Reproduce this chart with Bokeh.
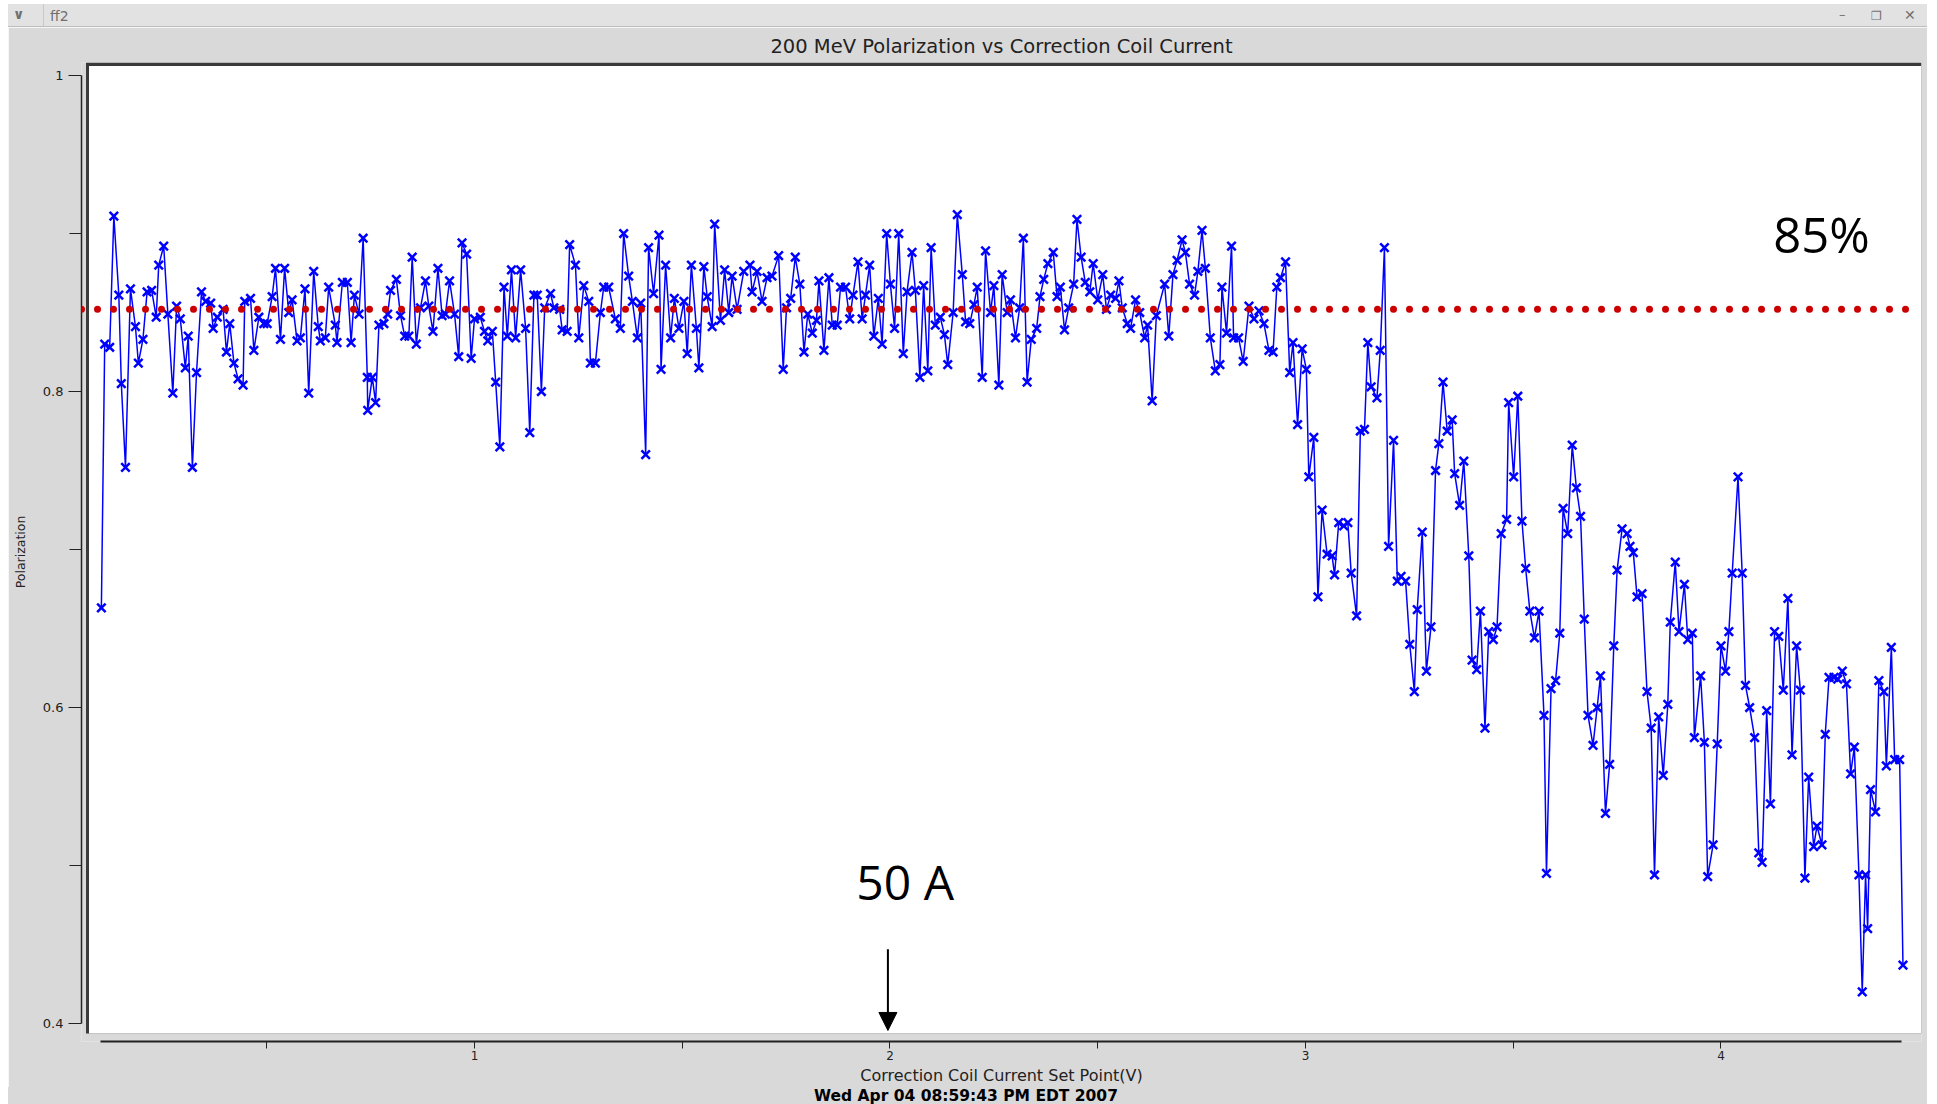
from bokeh.plotting import figure
from bokeh.models import Span, Label, Arrow, NormalHead, BoxAnnotation, FixedTicker, Div
from bokeh.layouts import column
from bokeh.embed import file_html
from bokeh.resources import INLINE

# ---------------- data ----------------
TITLE = "200 MeV Polarization vs Correction Coil Current"
X_LABEL = "Correction Coil Current Set Point(V)"
Y_LABEL = "Polarization"
DATE_TEXT = "Wed Apr 04 08:59:43 PM EDT 2007"
WINDOW_NAME = "ff2"
THRESHOLD = 0.852
THRESHOLD_TEXT = "85%"
MARK_TEXT = "50 A"
MARK_X = 1.995

x_a = [0.102,0.110,0.122,0.132,0.144,0.150,0.160,0.172,0.184,0.191,0.202,0.212,0.223,0.234,0.240,0.252,0.262,0.274,0.283,0.292,
       0.304,0.311,0.321,0.331,0.343,0.353,0.365,0.371,0.381,0.395,0.403,0.411,0.421,0.431,0.443,0.447,0.461,0.469,0.481,0.493,
       0.501,0.513,0.521,0.533,0.543,0.553,0.561,0.573,0.581,0.592,0.601,0.613,0.624,0.629,0.641,0.649,0.665,0.669]
y_a = [0.663,0.830,0.828,0.911,0.861,0.805,0.752,0.865,0.841,0.818,0.833,0.863,0.864,0.847,0.880,0.892,0.849,0.799,0.854,0.846,
       0.815,0.835,0.752,0.812,0.863,0.857,0.856,0.840,0.847,0.852,0.825,0.843,0.818,0.808,0.804,0.857,0.859,0.826,0.847,0.843,
       0.843,0.860,0.878,0.833,0.878,0.850,0.858,0.832,0.834,0.865,0.799,0.876,0.841,0.832,0.834,0.866,0.842,0.831]

x_b = [0.682,0.694,0.703,0.711,0.722,0.732,0.742,0.743,0.754,0.762,0.770,0.782,0.791,0.798,0.812,0.822,0.832,0.842,0.850,0.860,
       0.870,0.882,0.890,0.900,0.912,0.922,0.930,0.940,0.952,0.962,0.970,0.981,0.992,1.000,1.014,1.024,1.032,1.043,1.051,1.061,
       1.071,1.079,1.089,1.099,1.111,1.123,1.133,1.143,1.151,1.161,1.169,1.183,1.191,1.205,1.211,1.223,1.229]
y_b = [0.869,0.869,0.831,0.861,0.849,0.897,0.809,0.788,0.809,0.793,0.842,0.843,0.849,0.864,0.871,0.848,0.835,0.835,0.885,0.830,
       0.853,0.870,0.854,0.838,0.878,0.848,0.849,0.870,0.849,0.822,0.894,0.887,0.821,0.846,0.847,0.838,0.832,0.838,0.806,0.765,
       0.866,0.835,0.877,0.834,0.877,0.840,0.774,0.861,0.861,0.800,0.853,0.862,0.853,0.852,0.839,0.838,0.893]

x_c = [1.243,1.251,1.263,1.275,1.279,1.291,1.303,1.311,1.323,1.339,1.351,1.359,1.371,1.380,1.392,1.400,1.412,1.419,1.431,1.444,
       1.449,1.460,1.472,1.481,1.492,1.504,1.512,1.522,1.534,1.540,1.552,1.560,1.572,1.578,1.592,1.602,1.612,1.620,1.632,1.648,
       1.663,1.668,1.680,1.692,1.704,1.716,1.732,1.743,1.751,1.761,1.772,1.783,1.793,1.802,1.813]
y_c = [0.880,0.834,0.867,0.857,0.818,0.818,0.850,0.866,0.866,0.846,0.840,0.900,0.873,0.857,0.834,0.856,0.760,0.891,0.862,0.899,
       0.814,0.880,0.834,0.859,0.840,0.857,0.824,0.880,0.840,0.815,0.879,0.860,0.841,0.906,0.845,0.877,0.850,0.873,0.852,0.876,
       0.880,0.863,0.876,0.857,0.872,0.873,0.886,0.814,0.853,0.859,0.885,0.868,0.825,0.849,0.837]

x_d = [1.823,1.829,1.841,1.853,1.861,1.873,1.881,1.893,1.903,1.911,1.923,1.933,1.941,1.951,1.961,1.972,1.981,1.992,2.001,2.011,
       2.021,2.032,2.041,2.053,2.061,2.072,2.081,2.091,2.099,2.109,2.121,2.131,2.139,2.152,2.162,2.174,2.182,2.192,2.202,2.210,
       2.222,2.230,2.242,2.250,2.262,2.270,2.282,2.290,2.302,2.312,2.321,2.330,2.340,2.353,2.361,2.370,2.380,2.393]
y_d = [0.845,0.870,0.826,0.872,0.842,0.842,0.866,0.866,0.846,0.861,0.882,0.846,0.861,0.880,0.835,0.859,0.830,0.900,0.868,0.840,
       0.900,0.824,0.863,0.888,0.864,0.809,0.867,0.813,0.891,0.842,0.847,0.836,0.817,0.850,0.912,0.874,0.844,0.843,0.855,0.866,
       0.809,0.889,0.850,0.867,0.804,0.874,0.850,0.858,0.834,0.853,0.897,0.806,0.833,0.840,0.860,0.871,0.881,0.888]

x_e = [2.402,2.410,2.420,2.430,2.442,2.450,2.460,2.470,2.481,2.489,2.500,2.512,2.521,2.531,2.543,2.551,2.559,2.571,2.579,2.591,
       2.601,2.613,2.620,2.631,2.641,2.661,2.671,2.681,2.691,2.703,2.711,2.721,2.733,2.741,2.751,2.759,2.771,2.783,2.794,2.799,
       2.810,2.822,2.827,2.839,2.850,2.864,2.876,2.888,2.900,2.912,2.922,2.931,2.940,2.952]
y_e = [0.860,0.866,0.839,0.853,0.868,0.909,0.885,0.869,0.863,0.881,0.858,0.874,0.852,0.861,0.859,0.870,0.853,0.843,0.840,0.858,
       0.850,0.834,0.842,0.794,0.848,0.868,0.835,0.874,0.883,0.896,0.888,0.868,0.861,0.876,0.902,0.878,0.834,0.813,0.817,0.866,
       0.837,0.892,0.834,0.834,0.819,0.854,0.846,0.851,0.843,0.826,0.825,0.866,0.872,0.882]

x_f = [2.962,2.970,2.981,2.992,3.002,3.008,3.020,3.030,3.040,3.052,3.064,3.070,3.080,3.092,3.102,3.110,3.123,3.132,3.142,3.150,
       3.158,3.172,3.180,3.190,3.200,3.212,3.221,3.230,3.241,3.251,3.262,3.269,3.281,3.291,3.302,3.313,3.321,3.331,3.341,3.353,
       3.359,3.371,3.381,3.393,3.401,3.412,3.421,3.432,3.441,3.452,3.461,3.471,3.484,3.489,3.501,3.511,3.521,3.530,3.540,3.551,
       3.562,3.574,3.580,3.591,3.602,3.612,3.620,3.631,3.642,3.652,3.662,3.671,3.680,3.692,3.702,3.710]
y_f = [0.812,0.831,0.779,0.827,0.814,0.746,0.771,0.670,0.725,0.697,0.696,0.684,0.717,0.715,0.717,0.685,0.658,0.775,0.776,0.831,
       0.803,0.796,0.826,0.891,0.702,0.769,0.680,0.683,0.680,0.640,0.610,0.662,0.711,0.623,0.651,0.750,0.767,0.806,0.775,0.782,
       0.748,0.728,0.756,0.696,0.630,0.624,0.661,0.587,0.648,0.643,0.651,0.710,0.719,0.793,0.746,0.797,0.718,0.688,0.661,0.644,
       0.661,0.595,0.495,0.612,0.617,0.647,0.726,0.710,0.766,0.739,0.721,0.656,0.595,0.576,0.600,0.620]

x_g = [3.722,3.732,3.742,3.750,3.762,3.774,3.781,3.789,3.798,3.810,3.822,3.832,3.840,3.850,3.861,3.872,3.878,3.890,3.899,3.912,
       3.920,3.931,3.936,3.951,3.960,3.968,3.981,3.991,4.000,4.011,4.019,4.027,4.041,4.051,4.059,4.069,4.081,4.091,4.099,4.110,
       4.119,4.129,4.139,4.150,4.161,4.171,4.182,4.191,4.202,4.211,4.223,4.231,4.243,4.251,4.260,4.272,4.281,4.292,4.302,4.312,
       4.321,4.332,4.340,4.348,4.353,4.360,4.372,4.380,4.392,4.398,4.410,4.418,4.430,4.438]
y_g = [0.533,0.564,0.639,0.687,0.713,0.710,0.702,0.698,0.670,0.672,0.610,0.587,0.494,0.594,0.557,0.602,0.654,0.692,0.648,0.678,
       0.643,0.647,0.581,0.620,0.578,0.493,0.513,0.577,0.639,0.623,0.648,0.685,0.746,0.685,0.614,0.600,0.581,0.508,0.502,0.598,
       0.539,0.648,0.645,0.611,0.669,0.570,0.639,0.611,0.492,0.556,0.512,0.525,0.513,0.583,0.619,0.619,0.618,0.623,0.615,0.558,
       0.575,0.494,0.420,0.494,0.460,0.548,0.534,0.617,0.610,0.563,0.638,0.567,0.567,0.437]

x_ticks = [1, 2, 3, 4]
x_minor = [0.5, 1.5, 2.5, 3.5]
y_ticks = [0.4, 0.6, 0.8, 1.0]
y_minor = [0.5, 0.7, 0.9]

segments = [(x_a, y_a), (x_b, y_b), (x_c, y_c), (x_d, y_d), (x_e, y_e), (x_f, y_f), (x_g, y_g)]
xs, ys = [], []
for sx, sy in segments:
    assert len(sx) == len(sy), (len(sx), len(sy))
    xs += sx
    ys += sy

# ---------------- style / layout ----------------
WIN_BG = "#d9d9d9"
INK = "#222222"
X_RANGE = (0.05415, 4.4826)
Y_RANGE = (0.38861, 1.00823)
PANEL_LEFT_DARK = 0.0650
PANEL_LEFT = 0.0722
PANEL_BOTTOM = 0.39367
PANEL_TOP = 1.00601

p = figure(width=1919, height=1060, output_backend="svg", toolbar_location=None,
           x_range=X_RANGE, y_range=Y_RANGE, title=TITLE,
           min_border_left=73, min_border_right=6, min_border_top=35, min_border_bottom=46,
           background_fill_color=WIN_BG, border_fill_color=WIN_BG, outline_line_color=None,
           margin=(0, 0, 0, 0))
p.xgrid.visible = False
p.ygrid.visible = False

p.title.align = "center"
p.title.text_font = "DejaVu Sans"
p.title.text_font_size = "19.5px"
p.title.text_font_style = "normal"
p.title.text_color = INK
p.title.standoff = 10

# inset white plotting panel with a dark sunken edge
p.add_layout(BoxAnnotation(left=PANEL_LEFT_DARK, right=X_RANGE[1], bottom=PANEL_BOTTOM, top=Y_RANGE[1],
                           fill_color="#3a3a3a", fill_alpha=1, line_color=None, level="underlay"))
p.add_layout(BoxAnnotation(left=PANEL_LEFT, right=X_RANGE[1], bottom=PANEL_BOTTOM, top=PANEL_TOP,
                           fill_color="white", fill_alpha=1, line_color=None, level="underlay"))

xa = p.xaxis[0]
xa.ticker = FixedTicker(ticks=x_ticks, minor_ticks=x_minor)
xa.bounds = (0.1, 4.435)
xa.axis_line_color = INK
xa.axis_line_width = 2
xa.major_tick_in = 0
xa.major_tick_out = 7
xa.minor_tick_in = 0
xa.minor_tick_out = 7
xa.major_tick_line_color = INK
xa.minor_tick_line_color = INK
xa.major_label_text_font = "DejaVu Sans"
xa.major_label_text_font_size = "12px"
xa.major_label_text_color = INK
xa.major_label_standoff = 2
xa.axis_label = X_LABEL
xa.axis_label_text_font = "DejaVu Sans"
xa.axis_label_text_font_size = "16px"
xa.axis_label_text_font_style = "normal"
xa.axis_label_text_color = INK
xa.axis_label_standoff = 3

ya = p.yaxis[0]
ya.ticker = FixedTicker(ticks=y_ticks, minor_ticks=y_minor)
ya.bounds = (0.4, 1.0)
ya.axis_line_color = INK
ya.axis_line_width = 1.5
ya.major_tick_in = 0
ya.major_tick_out = 13
ya.minor_tick_in = 0
ya.minor_tick_out = 12
ya.major_tick_line_color = INK
ya.minor_tick_line_color = INK
ya.major_label_text_font = "DejaVu Sans"
ya.major_label_text_font_size = "13px"
ya.major_label_text_color = INK
ya.major_label_standoff = 5
ya.major_label_overrides = {1: "1"}
ya.axis_label = Y_LABEL
ya.axis_label_text_font = "DejaVu Sans"
ya.axis_label_text_font_size = "12.5px"
ya.axis_label_text_font_style = "normal"
ya.axis_label_text_color = INK
ya.axis_label_standoff = 12

# data
p.line(xs, ys, line_color="#0000ff", line_width=1.5)
p.scatter(xs, ys, marker="x", size=12, line_color="#0000ff", line_width=2.5)

# 85 % reference line (dotted)
p.add_layout(Span(location=THRESHOLD, dimension="width", line_color="#cc0000", line_width=7,
                  line_dash="0 16", line_cap="round"))

p.add_layout(Label(x=4.126, y=0.8994, text=THRESHOLD_TEXT, text_font="Open Sans", text_font_size="49px",
                   text_color="black", text_baseline="alphabetic", text_align="left"))
p.add_layout(Label(x=1.919, y=0.4896, text=MARK_TEXT, text_font="Open Sans", text_font_size="48px",
                   text_color="black", text_baseline="alphabetic", text_align="left"))
p.add_layout(Arrow(end=NormalHead(size=18, fill_color="black", line_color="black"),
                   x_start=MARK_X, y_start=0.447, x_end=MARK_X, y_end=0.3956,
                   line_color="black", line_width=2))

titlebar_html = (
    '<div style="position:relative;width:1919px;height:23px;background:#e2e2e2;'
    'border-bottom:1px solid #bdbdbd;box-sizing:border-box;font-family:\'DejaVu Sans\',sans-serif;color:#707070;">'
    '<span style="position:absolute;left:5px;top:3px;font-size:14px;line-height:14px;font-weight:bold;">&#8744;</span>'
    '<span style="position:absolute;left:35px;top:0px;height:22px;border-left:1px solid #c9c9c9;"></span>'
    '<span style="position:absolute;left:42px;top:5px;font-size:14px;line-height:14px;">' + WINDOW_NAME + '</span>'
    '<span style="position:absolute;left:1831px;top:4px;font-size:13px;line-height:14px;">&#8211;</span>'
    '<span style="position:absolute;left:1863px;top:5px;font-size:12px;line-height:14px;">&#10064;</span>'
    '<span style="position:absolute;left:1896px;top:4px;font-size:14px;line-height:14px;font-weight:bold;">&#10005;</span>'
    '</div>'
)
titlebar = Div(text=titlebar_html, width=1919, height=23, margin=(0, 0, 0, 0))

datebar_html = (
    '<div style="position:relative;width:1919px;height:17px;background:' + WIN_BG + ';">'
    '<span style="position:absolute;left:958px;top:2px;transform:translateX(-50%);white-space:nowrap;'
    'font-family:\'DejaVu Sans\',sans-serif;font-weight:bold;font-size:15.5px;line-height:15px;color:#000;">'
    + DATE_TEXT + '</span></div>'
)
datebar = Div(text=datebar_html, width=1919, height=17, margin=(0, 0, 0, 0))

layout = column(titlebar, p, datebar, spacing=0, margin=(4, 0, 0, 8))
open("out.html", "w").write(file_html(layout, INLINE))
